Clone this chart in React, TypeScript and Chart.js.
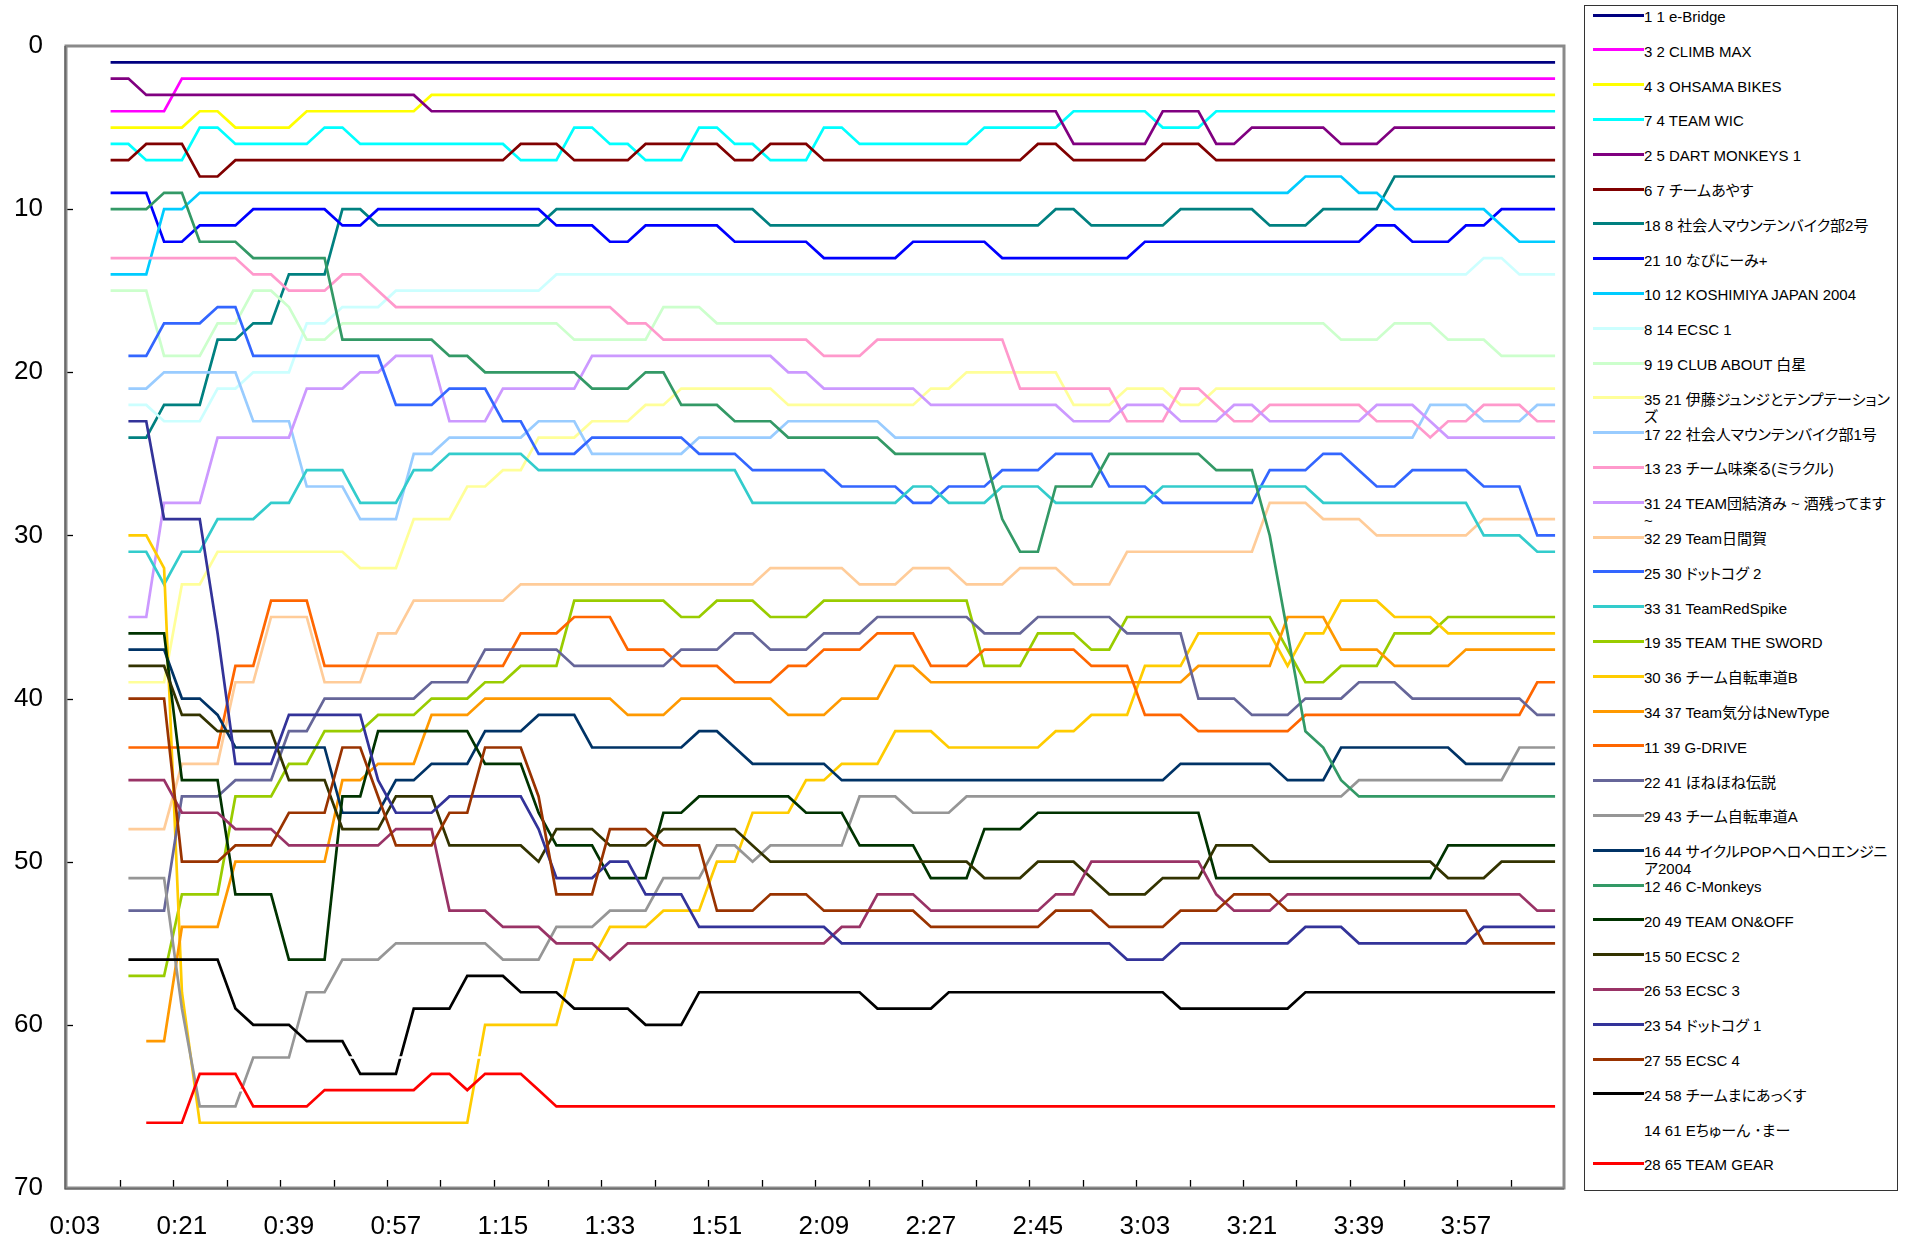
import React, { useEffect, useRef } from "react";
import { Chart, registerables } from "chart.js";

Chart.register(...registerables);

const timeLabels = [
  "0:03","0:06","0:09","0:12","0:15","0:18","0:21","0:24","0:27","0:30","0:33","0:36","0:39","0:42","0:45","0:48","0:51","0:54","0:57",
  "1:00","1:03","1:06","1:09","1:12","1:15","1:18","1:21","1:24","1:27","1:30","1:33","1:36","1:39","1:42","1:45","1:48","1:51","1:54","1:57",
  "2:00","2:03","2:06","2:09","2:12","2:15","2:18","2:21","2:24","2:27","2:30","2:33","2:36","2:39","2:42","2:45","2:48","2:51","2:54","2:57",
  "3:00","3:03","3:06","3:09","3:12","3:15","3:18","3:21","3:24","3:27","3:30","3:33","3:36","3:39","3:42","3:45","3:48","3:51","3:54","3:57",
  "4:00","4:03","4:06","4:09","4:12"
];

const rankTicks = [0, 10, 20, 30, 40, 50, 60, 70];

// Each run: [first time index, last time index, rank]
type Run = [number, number, number];

const eBridge: Run[] = [[2,83,1]];
const climbMax: Run[] = [[2,5,4],[6,83,2]];
const ohsamaBikes: Run[] = [[2,6,5],[7,8,4],[9,12,5],[13,19,4],[20,83,3]];
const teamWic: Run[] = [[2,3,6],[4,6,7],[7,8,5],[9,13,6],[14,15,5],[16,24,6],[25,27,7],[28,29,5],[30,31,6],[32,34,7],[35,36,5],[37,38,6],[39,41,7],[42,43,5],[44,50,6],[51,55,5],[56,60,4],[61,63,5],[64,83,4]];
const dartMonkeys: Run[] = [[2,3,2],[4,19,3],[20,55,4],[56,60,6],[61,63,4],[64,65,6],[66,70,5],[71,73,6],[74,83,5]];
const ayasu: Run[] = [[2,3,7],[4,6,6],[7,8,8],[9,24,7],[25,27,6],[28,31,7],[32,36,6],[37,38,7],[39,41,6],[42,53,7],[54,55,6],[56,60,7],[61,63,6],[64,83,7]];
const mtb2: Run[] = [[3,4,24],[5,7,22],[8,9,18],[10,11,17],[12,14,14],[15,16,10],[17,26,11],[27,38,10],[39,54,11],[55,56,10],[57,61,11],[62,66,10],[67,69,11],[70,73,10],[74,83,8]];
const navinimi: Run[] = [[2,4,9],[5,6,12],[7,9,11],[10,14,10],[15,16,11],[17,26,10],[27,29,11],[30,31,12],[32,36,11],[37,41,12],[42,46,13],[47,51,12],[52,59,13],[60,72,12],[73,74,11],[75,77,12],[78,79,11],[80,83,10]];
const koshimiya: Run[] = [[2,4,14],[5,6,10],[7,68,9],[69,71,8],[72,73,9],[74,79,10],[80,80,11],[81,83,12]];
const ecsc1: Run[] = [[3,4,22],[5,7,23],[8,9,21],[10,12,20],[13,14,17],[15,17,16],[18,26,15],[27,78,14],[79,80,13],[81,83,14]];
const clubAbout: Run[] = [[2,4,15],[5,7,19],[8,9,17],[10,11,15],[12,12,16],[13,14,18],[15,27,17],[28,32,18],[33,35,16],[36,70,17],[71,73,18],[74,76,17],[77,79,18],[80,83,19]];
const ito: Run[] = [[3,5,39],[6,7,33],[8,15,31],[16,18,32],[19,21,29],[22,23,27],[24,25,26],[26,28,24],[29,31,23],[32,33,22],[34,39,21],[40,47,22],[48,49,21],[50,55,20],[56,58,22],[59,61,21],[62,63,22],[64,83,21]];
const mtb1: Run[] = [[3,4,21],[5,9,20],[10,12,23],[13,15,27],[16,18,29],[19,20,25],[21,25,24],[26,28,23],[29,34,25],[35,39,24],[40,45,23],[46,75,24],[76,78,22],[79,81,23],[82,83,22]];
const miracle: Run[] = [[2,9,13],[10,11,14],[12,14,15],[15,16,14],[17,17,15],[18,30,16],[31,32,17],[33,41,18],[42,44,19],[45,52,18],[53,58,21],[59,61,23],[62,63,21],[64,64,22],[65,66,23],[67,72,22],[73,75,23],[76,76,24],[77,78,23],[79,81,22],[82,83,23]];
const danketsu: Run[] = [[3,4,35],[5,7,28],[8,12,24],[13,15,21],[16,17,20],[18,20,19],[21,23,23],[24,28,21],[29,39,19],[40,41,20],[42,47,21],[48,55,22],[56,58,23],[59,61,22],[62,64,23],[65,66,22],[67,72,23],[73,75,22],[76,76,23],[77,83,24]];
const himaka: Run[] = [[3,5,48],[6,8,44],[9,10,39],[11,13,35],[14,16,39],[17,18,36],[19,24,34],[25,38,33],[39,43,32],[44,46,33],[47,49,32],[50,52,33],[53,55,32],[56,58,33],[59,66,31],[67,69,28],[70,72,29],[73,78,30],[79,83,29]];
const dotcog2: Run[] = [[3,4,19],[5,7,17],[8,9,16],[10,17,19],[18,20,22],[21,23,21],[24,25,23],[26,28,25],[29,34,24],[35,37,25],[38,42,26],[43,46,27],[47,48,28],[49,51,27],[52,54,26],[55,57,25],[58,60,27],[61,66,28],[67,69,26],[70,71,25],[72,72,26],[73,74,27],[75,78,26],[79,81,27],[82,83,30]];
const redSpike: Run[] = [[3,4,31],[5,5,33],[6,7,31],[8,10,29],[11,12,28],[13,15,26],[16,18,28],[19,20,26],[21,25,25],[26,37,26],[38,46,28],[47,48,27],[49,51,28],[52,54,27],[55,60,28],[61,69,27],[70,78,28],[79,81,30],[82,83,31]];
const sword: Run[] = [[3,5,57],[6,8,52],[9,11,46],[12,13,44],[14,16,42],[17,19,41],[20,22,40],[23,24,39],[25,27,38],[28,33,34],[34,35,35],[36,38,34],[39,41,35],[42,50,34],[51,53,38],[54,56,36],[57,58,37],[59,67,35],[68,68,37],[69,70,39],[71,73,38],[74,76,36],[77,83,35]];
const jitenshaB: Run[] = [[3,4,30],[5,5,32],[6,6,58],[7,22,66],[23,27,60],[28,29,56],[30,32,54],[33,35,53],[36,37,50],[38,40,47],[41,42,45],[43,45,44],[46,48,42],[49,54,43],[55,56,42],[57,59,41],[60,62,38],[63,67,36],[68,68,38],[69,70,36],[71,73,34],[74,76,35],[77,83,36]];
const newType: Run[] = [[4,5,61],[6,8,54],[9,14,50],[15,16,45],[17,19,44],[20,22,41],[23,30,40],[31,33,41],[34,39,40],[40,42,41],[43,45,40],[46,47,38],[48,62,39],[63,67,38],[68,70,35],[71,73,37],[74,77,38],[78,83,37]];
const gDrive: Run[] = [[3,8,43],[9,10,38],[11,13,34],[14,24,38],[25,27,36],[28,30,35],[31,33,37],[34,36,38],[37,39,39],[40,41,38],[42,44,37],[45,47,36],[48,50,38],[51,56,37],[57,59,38],[60,62,41],[63,68,42],[69,81,41],[82,83,39]];
const honehone: Run[] = [[3,5,53],[6,8,46],[9,11,45],[12,13,42],[14,19,40],[20,22,39],[23,27,37],[28,33,38],[34,36,37],[37,38,36],[39,41,37],[42,44,36],[45,50,35],[51,53,36],[54,58,35],[59,62,36],[63,65,40],[66,68,41],[69,71,40],[72,74,39],[75,81,40],[82,83,41]];
const jitenshaA: Run[] = [[3,5,51],[6,6,59],[7,9,65],[10,12,62],[13,14,58],[15,17,56],[18,23,55],[24,26,56],[27,29,54],[30,32,53],[33,35,51],[36,37,49],[38,38,50],[39,43,49],[44,46,46],[47,49,47],[50,71,46],[72,80,45],[81,83,43]];
const cyclePop: Run[] = [[3,5,37],[6,7,40],[8,8,41],[9,14,43],[15,17,47],[18,19,45],[20,22,44],[23,25,42],[26,28,41],[29,34,43],[35,36,42],[37,37,43],[38,42,44],[43,61,45],[62,67,44],[68,70,45],[71,77,43],[78,83,44]];
const cMonkeys: Run[] = [[2,4,10],[5,6,9],[7,9,12],[10,14,13],[15,20,18],[21,22,19],[23,28,20],[29,31,21],[32,33,20],[34,36,22],[37,39,23],[40,45,24],[46,51,25],[52,52,29],[53,54,31],[55,57,27],[58,63,25],[64,66,26],[67,67,30],[68,68,36],[69,69,42],[70,70,43],[71,71,45],[72,83,46]];
const onOff: Run[] = [[3,5,36],[6,8,45],[9,11,52],[12,14,56],[15,16,46],[17,22,42],[23,25,44],[26,26,47],[27,29,49],[30,32,51],[33,34,47],[35,40,46],[41,43,47],[44,47,49],[48,50,51],[51,53,48],[54,63,47],[64,76,51],[77,83,49]];
const ecsc2: Run[] = [[3,5,38],[6,7,41],[8,11,42],[12,14,45],[15,17,48],[18,20,46],[21,25,49],[26,26,50],[27,29,48],[30,32,49],[33,37,48],[38,38,49],[39,50,50],[51,53,51],[54,56,50],[57,57,51],[58,60,52],[61,63,51],[64,66,49],[67,76,50],[77,79,51],[80,83,50]];
const ecsc3: Run[] = [[3,5,45],[6,8,47],[9,11,48],[12,17,49],[18,20,48],[21,23,53],[24,26,54],[27,29,55],[30,30,56],[31,42,55],[43,44,54],[45,47,52],[48,54,53],[55,56,52],[57,63,50],[64,64,52],[65,67,53],[68,81,52],[82,83,53]];
const dotcog1: Run[] = [[3,4,23],[5,7,29],[8,8,36],[9,11,44],[12,16,41],[17,17,45],[18,20,47],[21,25,46],[26,26,48],[27,29,51],[30,31,50],[32,34,52],[35,42,54],[43,58,55],[59,61,56],[62,68,55],[69,71,54],[72,78,55],[79,83,54]];
const ecsc4: Run[] = [[3,5,40],[6,8,50],[9,11,49],[12,14,47],[15,16,43],[17,17,46],[18,20,49],[21,22,47],[23,25,43],[26,26,46],[27,29,52],[30,32,48],[33,35,49],[36,38,53],[39,41,52],[42,47,53],[48,54,54],[55,57,53],[58,61,54],[62,64,53],[65,67,52],[68,78,53],[79,83,55]];
const maniaxx: Run[] = [[3,8,56],[9,9,59],[10,12,60],[13,15,61],[16,18,63],[19,21,59],[22,24,57],[25,27,58],[28,31,59],[32,34,60],[35,44,58],[45,48,59],[49,61,58],[62,68,59],[69,83,58]];
const etune: Run[] = [[9,13,64],[14,40,62],[41,83,61]];
const teamGear: Run[] = [[4,6,66],[7,9,63],[10,13,65],[14,19,64],[20,21,63],[22,22,64],[23,25,63],[26,26,64],[27,83,65]];

const seriesNames = [
  "1 1 e-Bridge",
  "3 2 CLIMB MAX",
  "4 3 OHSAMA BIKES",
  "7 4 TEAM WIC",
  "2 5 DART MONKEYS 1",
  "6 7 チームあやす",
  "18 8 社会人マウンテンバイク部2号",
  "21 10 なびにーみ+",
  "10 12 KOSHIMIYA JAPAN 2004",
  "8 14 ECSC 1",
  "9 19 CLUB ABOUT 白星",
  "35 21 伊藤ジュンジとテンプテーション\nズ",
  "17 22 社会人マウンテンバイク部1号",
  "13 23 チーム味楽る(ミラクル)",
  "31 24 TEAM団結済み ~ 酒残ってます\n~",
  "32 29 Team日間賀",
  "25 30 ドットコグ 2",
  "33 31 TeamRedSpike",
  "19 35 TEAM THE SWORD",
  "30 36 チーム自転車道B",
  "34 37 Team気分はNewType",
  "11 39 G-DRIVE",
  "22 41 ほねほね伝説",
  "29 43 チーム自転車道A",
  "16 44 サイクルPOPヘロヘロエンジニ\nア2004",
  "12 46 C-Monkeys",
  "20 49 TEAM ON&OFF",
  "15 50 ECSC 2",
  "26 53 ECSC 3",
  "23 54 ドットコグ 1",
  "27 55 ECSC 4",
  "24 58 チームまにあっくす",
  "14 61 Eちゅーん ･まー",
  "28 65 TEAM GEAR",
];

const seriesColors = [
  "#000080","#FF00FF","#FFFF00","#00FFFF","#800080","#800000","#008080","#0000FF",
  "#00CCFF","#CCFFFF","#CCFFCC","#FFFF99","#99CCFF","#FF99CC","#CC99FF","#FFCC99",
  "#3366FF","#33CCCC","#99CC00","#FFCC00","#FF9900","#FF6600","#666699","#969696",
  "#003366","#339966","#003300","#333300","#993366","#333399","#993300","#000000",
  "#FFFFFF","#FF0000",
];

const seriesRuns: Run[][] = [
  eBridge, climbMax, ohsamaBikes, teamWic, dartMonkeys, ayasu, mtb2, navinimi,
  koshimiya, ecsc1, clubAbout, ito, mtb1, miracle, danketsu, himaka,
  dotcog2, redSpike, sword, jitenshaB, newType, gDrive, honehone, jitenshaA,
  cyclePop, cMonkeys, onOff, ecsc2, ecsc3, dotcog1, ecsc4, maniaxx,
  etune, teamGear,
];

function expand(runs: Run[]): (number | null)[] {
  const out: (number | null)[] = timeLabels.map(() => null);
  runs.forEach(([a, b, v]) => {
    for (let i = a; i <= b; i++) out[i] = v;
  });
  return out;
}

const W = 1906;
const H = 1242;
const PLOT_LEFT = 66;
const PLOT_TOP = 46;
const PLOT_RIGHT = 1564;
const PLOT_BOTTOM = 1188;
const AXIS_FONT = "'Liberation Sans', Arial, sans-serif";

const framePlugin = {
  id: "excelFrame",
  afterDatasetsDraw(chart: any) {
    const { ctx, chartArea, scales } = chart;
    const { left, top, right, bottom } = chartArea;
    const x = scales.x;
    const y = scales.y;
    ctx.save();
    ctx.strokeStyle = "#000000";
    ctx.lineWidth = 1.3;
    const step = x.getPixelForValue(1) - x.getPixelForValue(0);
    for (let k = 3; k < timeLabels.length; k += 3) {
      const px = Math.round(x.getPixelForValue(k) - step / 2) + 0.5;
      ctx.beginPath();
      ctx.moveTo(px, bottom);
      ctx.lineTo(px, bottom - 8);
      ctx.stroke();
    }
    rankTicks.forEach((v) => {
      if (v === 0 || v === 70) return;
      const py = Math.round(y.getPixelForValue(v)) + 0.5;
      ctx.beginPath();
      ctx.moveTo(left, py);
      ctx.lineTo(left + 7, py);
      ctx.stroke();
    });
    ctx.strokeStyle = "#8a8a8a";
    ctx.lineWidth = 3;
    ctx.strokeRect(left, top, right - left, bottom - top);
    ctx.strokeStyle = "#555555";
    ctx.lineWidth = 1.2;
    ctx.beginPath();
    ctx.moveTo(left - 1, top);
    ctx.lineTo(left - 1, bottom + 1);
    ctx.lineTo(right, bottom + 1);
    ctx.stroke();
    ctx.restore();
  },
};

function Legend() {
  const top0 = 14;
  const gap = 34.8;
  return (
    <div
      style={{
        position: "absolute",
        left: 1584,
        top: 5,
        width: 314,
        height: 1186,
        border: "1.5px solid #333",
        boxSizing: "border-box",
        background: "#fff",
      }}
    >
      {seriesNames.map((name, i) => {
        const ly = top0 + i * gap - 5;
        const lines = name.split("\n");
        return (
          <React.Fragment key={i}>
            {seriesColors[i] !== "#FFFFFF" && (
              <div
                style={{
                  position: "absolute",
                  left: 8,
                  top: ly - 1.5,
                  width: 51,
                  height: 3,
                  background: seriesColors[i],
                }}
              />
            )}
            {lines.map((t, j) => (
              <div
                key={j}
                style={{
                  position: "absolute",
                  left: 59,
                  top: ly - 6 + j * 17,
                  whiteSpace: "nowrap",
                  fontFamily: "'Liberation Sans', Arial, 'Noto Sans CJK JP', sans-serif",
                  fontFeatureSettings: '"palt"',
                  fontSize: 15,
                  lineHeight: "16px",
                  color: "#000",
                }}
              >
                {t}
              </div>
            ))}
          </React.Fragment>
        );
      })}
    </div>
  );
}

export default function App() {
  const canvasRef = useRef<HTMLCanvasElement | null>(null);

  useEffect(() => {
    const canvas = canvasRef.current;
    if (!canvas) return;
    const n = seriesRuns.length;
    const chart = new Chart(canvas, {
      type: "line",
      data: {
        labels: timeLabels,
        datasets: seriesRuns.map((runs, i) => ({
          label: seriesNames[i].replace("\n", ""),
          data: expand(runs),
          borderColor: seriesColors[i],
          backgroundColor: seriesColors[i],
          borderWidth: 2.7,
          pointRadius: 0,
          pointHoverRadius: 0,
          tension: 0,
          fill: false,
          spanGaps: false,
          order: n - i,
        })),
      },
      options: {
        responsive: false,
        animation: false,
        devicePixelRatio: 1,
        events: [],
        layout: {
          padding: { left: 0, top: PLOT_TOP, right: W - PLOT_RIGHT, bottom: 0 },
        },
        plugins: {
          legend: { display: false },
          tooltip: { enabled: false },
          title: { display: false },
        },
        scales: {
          x: {
            type: "category",
            offset: true,
            grid: { display: false, drawTicks: false },
            border: { display: false },
            afterFit: (s: any) => {
              s.height = H - PLOT_BOTTOM;
            },
            ticks: {
              autoSkip: false,
              maxRotation: 0,
              minRotation: 0,
              padding: 23,
              color: "#000",
              font: { family: AXIS_FONT, size: 26 },
              callback: (_v: any, idx: number) => (idx % 6 === 0 ? timeLabels[idx] : ""),
            },
          },
          y: {
            type: "linear",
            reverse: true,
            min: 0,
            max: 70,
            grid: { display: false, drawTicks: false },
            border: { display: false },
            afterFit: (s: any) => {
              s.width = PLOT_LEFT;
            },
            afterBuildTicks: (s: any) => {
              s.ticks = rankTicks.map((v) => ({ value: v }));
            },
            ticks: {
              padding: 23,
              color: "#000",
              font: { family: AXIS_FONT, size: 26 },
            },
          },
        },
      },
      plugins: [framePlugin],
    });
    return () => chart.destroy();
  }, []);

  return (
    <div
      style={{
        position: "absolute",
        left: 0,
        top: 0,
        width: W,
        height: H,
        overflow: "hidden",
        background: "#fff",
      }}
    >
      <canvas ref={canvasRef} width={W} height={H} style={{ width: W, height: H, display: "block" }} />
      <Legend />
    </div>
  );
}
